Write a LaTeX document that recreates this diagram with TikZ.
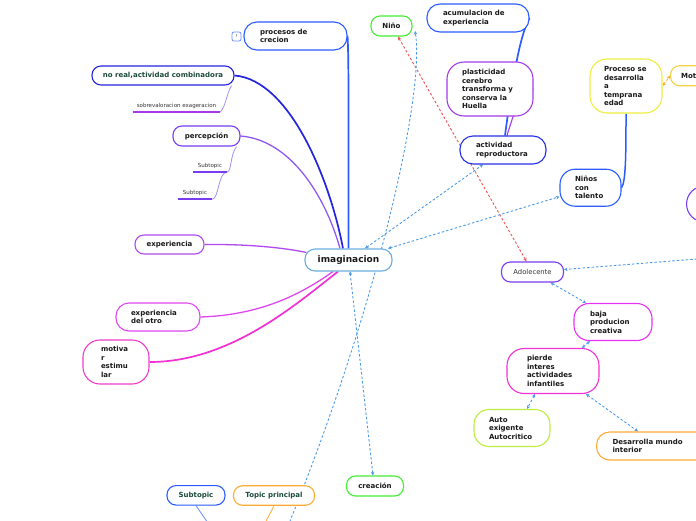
\documentclass[tikz,border=0pt]{standalone}
\usepackage{fontspec}
\setmainfont{DejaVu Sans}
\usepackage{tikz}
\usetikzlibrary{arrows.meta,backgrounds}

\definecolor{cimag}{HTML}{6AAEE0}
\definecolor{cblue}{HTML}{2A5CFF}
\definecolor{cnavy}{HTML}{2424E0}
\definecolor{cviolet}{HTML}{7A3CF0}
\definecolor{cpurple}{HTML}{A43BE8}
\definecolor{clilac}{HTML}{B04AF0}
\definecolor{cmagenta}{HTML}{E046F0}
\definecolor{cpink}{HTML}{F03CC8}
\definecolor{cgreen}{HTML}{44EE33}
\definecolor{cyellow}{HTML}{EEEE40}
\definecolor{cgold}{HTML}{F5D040}
\definecolor{corange}{HTML}{FFAA33}
\definecolor{clime}{HTML}{BCEE40}
\definecolor{cteal}{HTML}{1B4A3C}
\definecolor{clink}{HTML}{4D9AE8}
\definecolor{cred}{HTML}{EE5555}
\definecolor{cthin}{HTML}{A090F5}

\newcommand\topicfont{\fontsize{7}{8.5}\selectfont\bfseries}
\newcommand\smallfont{\fontsize{5.5}{6.5}\selectfont}

\tikzset{
  idea/.style={draw=#1, line width=1.1pt, rounded corners=9pt, fill=white,
    font=\topicfont, text=black!90, inner ysep=2pt, align=left},
  ideac/.style={idea=#1, align=center, inner xsep=4pt},
  mid/.style={rounded corners=13pt},
  tall/.style={rounded corners=17pt},
  note/.style={inner sep=0pt, minimum height=12pt, font=\smallfont, text=black!80},
  link/.style={draw=clink, dash pattern=on 2.5pt off 2pt, line width=0.9pt},
  redlink/.style={draw=cred, dash pattern=on 2.5pt off 2pt, line width=0.9pt},
  branch/.style={draw=#1, line width=1.7pt},
  twig/.style={draw=#1, line width=0.8pt}
}

\begin{document}
\begin{tikzpicture}[x=1pt,y=-1pt,>={Stealth[length=3.5pt,width=3.5pt]}]
  \useasboundingbox (0,0) rectangle (696,520);

  % NOEUD CENTRAL
  \node[ideac=cimag, minimum width=87pt, minimum height=22pt, rounded corners=10pt,
        font=\fontsize{9}{10}\selectfont\bfseries] (imag) at (348.5,260) {imaginacion};

  % BRANCHES GAUCHE
  \node[idea=cblue, mid, text width=71pt, inner xsep=16pt, minimum height=28pt] (procesos) at (295.5,36) {procesos de\\crecion};
  \node[draw=cblue!70, line width=0.8pt, rounded corners=2pt, minimum size=9pt, inner sep=0pt,
        font=\fontsize{4}{4}\selectfont] (alerta) at (236.5,36.5) {!};
  \node[ideac=cnavy, text=cteal, minimum width=142pt, minimum height=19pt] (noreal) at (163,75.5) {no real,actividad combinadora};
  \node[note, minimum width=87pt] (sobre) at (176.5,106) {sobrevaloracion exageracion};
  \node[ideac=cviolet, minimum width=67pt, minimum height=20pt] (percep) at (206.5,136) {percepción};
  \node[note, minimum width=34pt] (subA) at (210,166) {Subtopic};
  \node[note, minimum width=34pt] (subB) at (195,193) {Subtopic};
  \node[ideac=clilac, minimum width=69pt, minimum height=19pt] (exper) at (169.5,244.5) {experiencia};
  \node[idea=cmagenta, mid, text width=54pt, inner xsep=15pt, minimum height=28pt] (expotro) at (158,317) {experiencia\\del otro};
  \node[idea=cpink, tall, text width=30pt, inner xsep=18pt, minimum height=44pt] (motivar) at (116,362) {motiva\\r\\estimu\\lar};

  % BRANCHES HAUT
  \node[ideac=cgreen, minimum width=41pt, minimum height=20pt] (nino) at (391.5,26) {Niño};
  \node[idea=cblue, mid, text width=70pt, inner xsep=16pt, minimum height=28pt] (acum) at (478,18) {acumulacion de\\experiencia};
  \node[idea=cpurple, tall, text width=56pt, inner xsep=15pt, minimum height=54pt] (plast) at (490,89) {plasticidad\\cerebro\\transforma y\\conserva la\\Huella};
  \node[idea=cnavy!80!cblue, mid, text width=54pt, inner xsep=16pt, minimum height=28pt] (activ) at (503,150) {actividad\\reproductora};

  % BRANCHES DROITE
  \node[idea=cyellow, tall, text width=44pt, inner xsep=14pt, minimum height=54pt] (proceso) at (626,86) {Proceso se\\desarrolla\\a\\temprana\\edad};
  \node[idea=cgold, anchor=west, text width=48pt, inner xsep=10.5pt, minimum height=20pt] (mot) at (670,75.7) {Mot};
  \node[idea=cblue, rounded corners=15pt, text width=31pt, inner xsep=15pt, minimum height=37pt] (ninos) at (590.5,187.7) {Niños\\con\\talento};
  \node[idea=cviolet, rounded corners=18pt, anchor=west, minimum width=80pt, minimum height=36pt] (lejos) at (686,204) {};
  \coordinate (fuera) at (760,254);

  \node[ideac=cviolet, minimum width=62pt, minimum height=20pt,
        font=\fontsize{6.8}{8}\selectfont, text=black!80] (adol) at (532.5,272) {Adolecente};
  \node[idea=cmagenta!70!magenta, rounded corners=15pt, text width=46pt, inner xsep=16pt, minimum height=37pt] (baja) at (613,322) {baja\\producion\\creativa};
  \node[idea=cpink!80!magenta, tall, text width=52pt, inner xsep=20pt, minimum height=45pt] (pierde) at (553,371) {pierde\\interes\\actividades\\infantiles};
  \node[idea=clime, rounded corners=15pt, text width=46pt, inner xsep=15pt, minimum height=37pt] (auto) at (512,428) {Auto\\exigente\\Autocritico};
  \node[idea=corange, mid, anchor=west, text width=84pt, inner xsep=16pt, minimum height=28pt] (desarr) at (596,446) {Desarrolla mundo\\interior};

  % BAS
  \node[ideac=cgreen, minimum width=57pt, minimum height=20pt] (creacion) at (375,486) {creación};
  \node[ideac=cblue, text=cteal, minimum width=58pt, minimum height=19.5pt] (subtopic) at (196,495.3) {Subtopic};
  \node[ideac=corange, text=cteal, minimum width=81pt, minimum height=19.5pt] (topic) at (274,495.5) {Topic principal};
  \coordinate (bajoA) at (210,526);
  \coordinate (bajoB) at (263,527);
  \coordinate (bajoC) at (288,526);

  % SOULIGNEMENTS
  \draw[line width=2pt, cpurple] (sobre.south west) -- (sobre.south east);
  \draw[line width=2pt, cviolet] (subA.south west) -- (subA.south east);
  \draw[line width=2pt, cviolet] (subB.south west) -- (subB.south east);

  \begin{scope}[on background layer]
    % LIENS PLEINS
    \draw[branch=cblue] (procesos.east) .. controls (349,60) and (348.5,150) .. (imag.north);
    \draw[branch=cnavy] (noreal.east) .. controls (290,80) and (330,180) .. ([xshift=-5.5pt]imag.north);
    \draw[branch=cviolet!85, line width=1.3pt] (percep.east) .. controls (290,140) and (325,195) .. ([xshift=-8.5pt]imag.north);
    \draw[branch=clilac, line width=1.3pt] (exper.east) .. controls (250,244) and (285,248) .. ([xshift=2pt,yshift=-4pt]imag.north west);
    \draw[branch=cmagenta, line width=1.3pt] (expotro.east) .. controls (260,315) and (300,295) .. ([xshift=-15.5pt]imag.south);
    \draw[branch=cpink!80!magenta] (motivar.east) .. controls (230,362) and (295,305) .. ([xshift=-10.5pt]imag.south);
    \draw[branch=cblue] ([xshift=2pt]activ.north) .. controls (515,60) and (522,32) .. (acum.east);
    \draw[branch=cpurple, line width=1.1pt] ([xshift=4pt]activ.north) .. controls (515,110) and (520,92) .. (plast.east);
    \draw[branch=cblue, line width=1.5pt] (ninos.east) .. controls (626,182) and (626,150) .. (proceso.south);

    \draw[twig=cthin] ([xshift=-3pt]noreal.south east) .. controls (226,95) and (226,106) .. (sobre.south east);
    \draw[twig=cthin] ([xshift=-4pt]percep.south east) .. controls (230,155) and (232,170) .. (subA.south east);
    \draw[twig=cthin] (subA.south east) .. controls (218,172) and (219,199) .. (subB.south east);
    \draw[twig=cblue!70] (subtopic.south) -- (bajoA);
    \draw[twig=corange] (topic.south) -- (bajoB);

    % LIENS POINTILLES
    \draw[link, <->] ([xshift=16.5pt]imag.north) -- ([xshift=-20pt]activ.south);
    \draw[link, <->] ([xshift=39.5pt]imag.north) -- ([yshift=-9pt]ninos.west);
    \draw[link, ->] (bajoC) .. controls (380,300) and (425,90) .. ([xshift=2.5pt,yshift=-5pt]nino.east);
    \draw[redlink, <->] ([xshift=6.5pt]nino.south) -- ([xshift=-6pt]adol.north);
    \draw[link, <->] ([xshift=1.5pt]imag.south) -- ([xshift=-2pt]creacion.north);
    \draw[link, ->] (fuera) -- ([yshift=2.5pt]adol.east);
    \draw[link, <->] ([xshift=18pt]adol.south) -- ([xshift=-27pt]baja.north);
    \draw[link, <->] ([xshift=-23pt]baja.south) -- ([xshift=29pt]pierde.north);
    \draw[link, <->] ([xshift=-18pt]pierde.south) -- ([xshift=15pt]auto.north);
    \draw[link, <->] ([xshift=33pt]pierde.south) -- ([xshift=42pt]desarr.north west);
    \draw[link, draw=corange, <->] (proceso.east) -- (mot.west);
  \end{scope}
\end{tikzpicture}
\end{document}
